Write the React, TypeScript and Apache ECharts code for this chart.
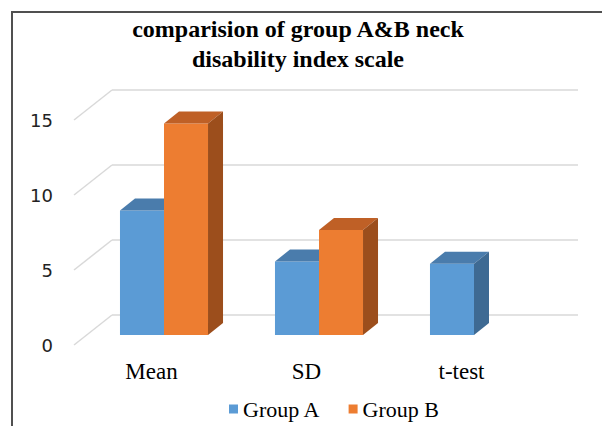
import React, { useEffect, useRef } from "react";
import * as echarts from "echarts";

const categories = ["Mean", "SD", "t-test"];
const groupA = [8.3, 4.9, 4.75];
const groupB: (number | null)[] = [14.1, 7.0, null];
const yTicks = [0, 5, 10, 15];
const seriesNames = ["Group A", "Group B"];
const titleText = "comparision of group A&B neck\ndisability index scale";

const FRONT = { A: "#5B9BD5", B: "#ED7D31" };
const TOP = { A: "#4a7cac", B: "#bf6026" };
const SIDE = { A: "#3e6a93", B: "#9c4e1c" };
const DX = 15;
const DY = 12;
const WALL_DX = 38;
const WALL_DY = 30;
const BAR_FRAC = 0.284;

function barRender(key: "A" | "B") {
  return (params: any, api: any) => {
    const ci = api.value(0);
    const v = api.value(1);
    if (v == null || isNaN(v)) return null;
    const top = api.coord([ci, v]);
    const base = api.coord([ci, 0]);
    const band = api.size([1, 0])[0];
    const bw = band * BAR_FRAC;
    const x0 = key === "A" ? top[0] - bw : top[0];
    const x1 = x0 + bw;
    const yT = top[1];
    const yB = base[1];
    return {
      type: "group",
      children: [
        {
          type: "rect",
          shape: { x: x0, y: yT, width: bw, height: yB - yT },
          style: { fill: FRONT[key] },
        },
        {
          type: "polygon",
          shape: {
            points: [
              [x0, yT],
              [x1, yT],
              [x1 + DX, yT - DY],
              [x0 + DX, yT - DY],
            ],
          },
          style: { fill: TOP[key] },
        },
        {
          type: "polygon",
          shape: {
            points: [
              [x1, yT],
              [x1 + DX, yT - DY],
              [x1 + DX, yB - DY],
              [x1, yB],
            ],
          },
          style: { fill: SIDE[key] },
        },
      ],
    };
  };
}

export default function App() {
  const ref = useRef<HTMLDivElement>(null);
  useEffect(() => {
    if (!ref.current) return;
    const chart = echarts.init(ref.current, undefined, { renderer: "svg" });
    const dataA = groupA
      .map((v, i) => (v == null ? null : [i, v]))
      .filter((d) => d != null);
    const dataB = groupB
      .map((v, i) => (v == null ? null : [i, v]))
      .filter((d) => d != null);
    chart.setOption({
      animation: false,
      backgroundColor: "#ffffff",
      title: {
        text: titleText,
        left: 293,
        top: 9,
        textAlign: "center",
        textStyle: {
          fontFamily: "Liberation Serif",
          fontWeight: "bold",
          fontSize: 24,
          lineHeight: 30,
          color: "#000",
        },
      },
      legend: {
        data: seriesNames,
        left: 224,
        top: 393,
        icon: "rect",
        itemWidth: 9,
        itemHeight: 9,
        itemGap: 28,
        textStyle: {
          fontFamily: "Liberation Serif",
          fontSize: 22,
          color: "#000",
        },
      },
      graphic: [
        {
          type: "polyline",
          shape: { points: [[12, 426], [12, 12], [602, 12]] },
          style: { stroke: "#505050", lineWidth: 2, fill: null },
          z: 100,
        },
      ],
      grid: [
        { left: 112, top: 90, width: 466, height: 225 },
        { left: 74, top: 120, width: 465, height: 225 },
        { left: 86.5, top: 110, width: 465, height: 225 },
      ],
      xAxis: [
        { gridIndex: 0, type: "category", data: categories, show: false },
        {
          gridIndex: 1,
          type: "category",
          data: categories,
          axisLine: { show: false },
          axisTick: { show: false },
          splitLine: { show: false },
          axisLabel: {
            margin: 15,
            fontFamily: "Liberation Serif",
            fontSize: 23,
            color: "#000",
          },
        },
        { gridIndex: 2, type: "category", data: categories, show: false },
      ],
      yAxis: [
        {
          gridIndex: 0,
          type: "value",
          min: 0,
          max: 15,
          interval: 5,
          axisLabel: { show: false },
          axisLine: { show: false },
          axisTick: { show: false },
          splitLine: { show: true, lineStyle: { color: "#d9d9d9", width: 1.5 } },
        },
        {
          gridIndex: 1,
          type: "value",
          min: 0,
          max: 15,
          interval: 5,
          axisLine: { show: false },
          axisTick: { show: false },
          splitLine: { show: false },
          axisLabel: {
            margin: 21,
            fontFamily: "DejaVu Sans",
            fontSize: 18,
            color: "#222",
          },
        },
        {
          gridIndex: 2,
          type: "value",
          min: 0,
          max: 15,
          interval: 5,
          show: false,
          splitLine: { show: false },
        },
      ],
      series: [
        {
          type: "custom",
          name: "walls",
          xAxisIndex: 1,
          yAxisIndex: 1,
          silent: true,
          data: yTicks.map((v) => [0, v]),
          renderItem: (params: any, api: any) => {
            const cs = params.coordSys;
            const p = api.coord([0, api.value(1)]);
            return {
              type: "line",
              shape: { x1: cs.x, y1: p[1], x2: cs.x + WALL_DX, y2: p[1] - WALL_DY },
              style: { stroke: "#d9d9d9", lineWidth: 1.5 },
            };
          },
        },
        {
          type: "custom",
          name: seriesNames[0],
          xAxisIndex: 2,
          yAxisIndex: 2,
          itemStyle: { color: FRONT.A },
          data: dataA,
          renderItem: barRender("A"),
        },
        {
          type: "custom",
          name: seriesNames[1],
          xAxisIndex: 2,
          yAxisIndex: 2,
          itemStyle: { color: FRONT.B },
          data: dataB,
          renderItem: barRender("B"),
        },
      ],
    });
    return () => chart.dispose();
  }, []);
  return (
    <div
      ref={ref}
      style={{ position: "fixed", left: 0, top: 0, width: 602, height: 426 }}
    />
  );
}
